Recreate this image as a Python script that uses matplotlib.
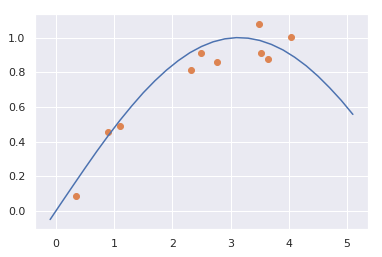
import matplotlib
matplotlib.use("Agg")
import matplotlib.pyplot as plt
import seaborn as sns

sns.set_theme()

curve_x = [-0.1, 0.1, 0.3, 0.5, 0.7, 0.9, 1.1, 1.3, 1.5, 1.7, 1.9, 2.1, 2.3, 2.5,
           2.7, 2.9, 3.1, 3.3, 3.5, 3.7, 3.9, 4.1, 4.3, 4.5, 4.7, 4.9, 5.1]
curve_y = [-0.050, 0.050, 0.149, 0.247, 0.343, 0.435, 0.523, 0.605, 0.682, 0.751,
           0.813, 0.867, 0.913, 0.949, 0.976, 0.993, 1.000, 0.997, 0.984, 0.961,
           0.929, 0.887, 0.837, 0.778, 0.711, 0.638, 0.557]

pts_x = [0.34, 0.887, 1.092, 2.32, 2.49, 2.765, 3.48, 3.53, 3.635, 4.044]
pts_y = [0.084, 0.456, 0.49, 0.811, 0.914, 0.857, 1.08, 0.914, 0.874, 1.006]

W, H = 382, 257
fig = plt.figure(figsize=(W / 72, H / 72), dpi=72)
ax = fig.add_axes([35 / W, 1 - 229.3 / H, (368 - 35) / W, (229.3 - 14) / H])

ax.plot(curve_x, curve_y, color=sns.color_palette()[0])
ax.scatter(pts_x, pts_y, color=sns.color_palette()[1])

fig.savefig("out.png", dpi=72)
